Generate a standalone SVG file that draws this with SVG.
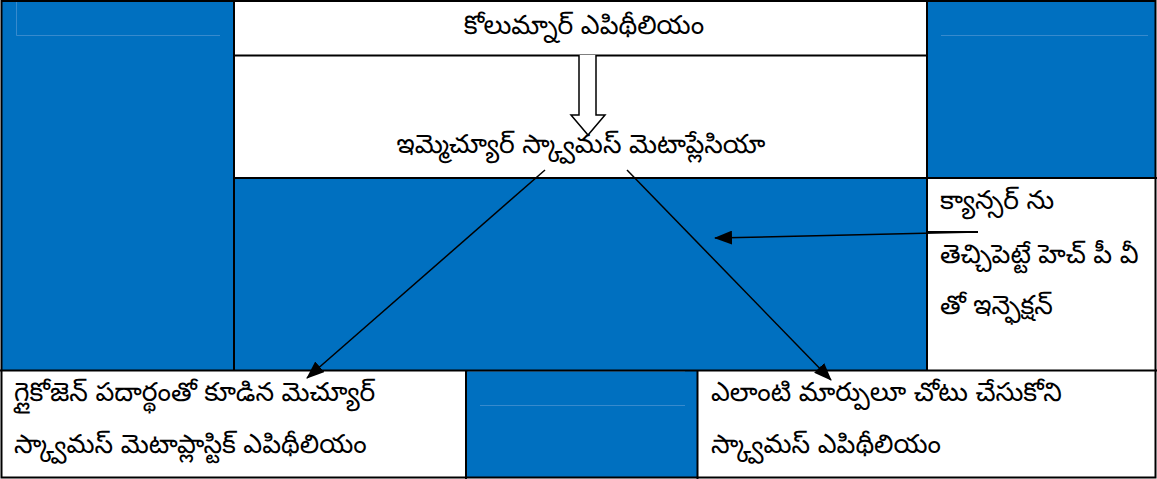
<svg xmlns="http://www.w3.org/2000/svg" width="1157" height="479" viewBox="0 0 1157 479">
<style>
.blue{fill:#0070C0}
.white{fill:#ffffff}
.bd{stroke:#000;stroke-width:2;fill:none}
.faint{stroke:#5b9bd5;stroke-width:1;fill:none;opacity:0.6}
.t{font-family:"Noto Sans Telugu","Noto Sans","DejaVu Sans",sans-serif;font-size:26.5px;fill:#000}
.conn{stroke:#000;stroke-width:1.5;fill:none}
</style>
<defs>
<marker id="ahb" viewBox="0 0 18 14" refX="17" refY="7" markerWidth="18" markerHeight="14" markerUnits="userSpaceOnUse" orient="auto">
<path d="M0,0 L18,7 L0,14 z" fill="#000"/>
</marker>
</defs>
<rect x="0" y="0" width="1157" height="479" class="white"/>
<g id="left-panel">
<rect x="2" y="2" width="232" height="369" class="blue"/>
<path d="M16.5,2 V35.5 H220" class="faint"/>
</g>
<g id="right-top-panel">
<rect x="927" y="2" width="229" height="176" class="blue"/>
<path d="M941,35.5 H1148" class="faint"/>
</g>
<g id="center-panel">
<rect x="234" y="178" width="693" height="192" class="blue"/>
</g>
<g id="bottom-mid-panel">
<rect x="466" y="371" width="231" height="106" class="blue"/>
<path d="M468,371.5 H685 M480,405.5 H685" class="faint"/>
</g>
<g id="node-columnar">
<text x="584" y="34" text-anchor="middle" class="t">కోలుమ్నార్ ఎపిథీలియం</text>
</g>
<g id="node-immature">
<text x="581" y="153" text-anchor="middle" class="t">ఇమ్మెచ్యూర్ స్క్వామస్ మెటాప్లేసియా</text>
</g>
<g id="node-hpv">
<text x="940" y="209" class="t">క్యాన్సర్ ను</text>
<text x="940" y="263" class="t">తెచ్చిపెట్టే హెచ్ పీ వీ</text>
<text x="940" y="314" class="t">తో ఇన్ఫెక్షన్</text>
</g>
<g id="node-mature">
<text x="14" y="401" class="t">గ్లైకోజెన్ పదార్థంతో కూడిన మెచ్యూర్</text>
<text x="14" y="453" class="t">స్క్వామస్ మెటాప్లాస్టిక్ ఎపిథీలియం</text>
</g>
<g id="node-squamous">
<text x="711" y="401" class="t">ఎలాంటి మార్పులూ చోటు చేసుకోని</text>
<text x="711" y="453" class="t">స్క్వామస్ ఎపిథీలియం</text>
</g>
<g id="borders">
<rect x="1.5" y="1" width="1154" height="476.5" class="bd" stroke-width="3"/>
<path d="M234,0 V371" class="bd" stroke-width="3"/>
<path d="M927,0 V371" class="bd" stroke-width="3"/>
<path d="M234,55.5 H927" class="bd"/>
<path d="M234,178 H1157" class="bd" stroke-width="3"/>
<path d="M0,370.5 H1157" class="bd"/>
<path d="M466,370 V479" class="bd"/>
<path d="M697.5,370 V479" class="bd"/>
<path d="M928,232 H978" class="bd" stroke-width="1.5"/>
</g>
<g id="connectors">
<path d="M579,55 V115 H571 L588,135 L605,115 H596 V55" fill="#fff" stroke="#000" stroke-width="1.5"/>
<line x1="545" y1="170" x2="307" y2="378" class="conn" marker-end="url(#ahb)"/>
<line x1="627" y1="170" x2="831" y2="380" class="conn" marker-end="url(#ahb)"/>
<line x1="978" y1="232" x2="715" y2="238" class="conn" marker-end="url(#ahb)"/>
</g>
</svg>
